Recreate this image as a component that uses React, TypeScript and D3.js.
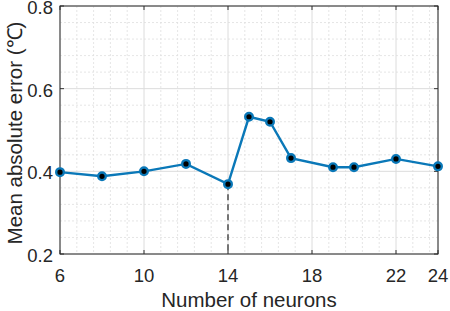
import React from "react";
import * as d3 from "d3";

const neurons = [6, 8, 10, 12, 14, 15, 16, 17, 19, 20, 22, 24];
const mae = [0.398, 0.388, 0.400, 0.418, 0.369, 0.532, 0.520, 0.432, 0.410, 0.410, 0.430, 0.412];
const xTicks = [6, 10, 14, 18, 22, 24];
const yTicks = [0.2, 0.4, 0.6, 0.8];
const bestIndex = 4;

export default function App() {
  const W = 450, H = 311;
  const L = 60, R = 438, T = 6, B = 254;
  const x = d3.scaleLinear().domain([6, 24]).range([L, R]);
  const y = d3.scaleLinear().domain([0.2, 0.8]).range([B, T]);
  const xMinor = d3.range(6, 24.001, 0.8).filter((v) => !xTicks.some((t) => Math.abs(t - v) < 1e-6));
  const yMinor = d3.range(0.2, 0.8001, 0.04).filter((v) => !yTicks.some((t) => Math.abs(t - v) < 1e-6));
  const line = d3.line<number>().x((_, i) => x(neurons[i])).y((d) => y(d));
  const font = "'Liberation Sans', Arial, Helvetica, sans-serif";
  const col = "#0a78b8";
  return (
    <svg width={W} height={H} style={{ position: "absolute", left: 0, top: 0, background: "#fff" }}>
      <rect x={0} y={0} width={W} height={H} fill="#fff" />
      {xMinor.map((v, i) => (
        <line key={"xm" + i} x1={x(v)} x2={x(v)} y1={T} y2={B} stroke="#dedede" strokeWidth={0.8} strokeDasharray="2,2" />
      ))}
      {yMinor.map((v, i) => (
        <line key={"ym" + i} x1={L} x2={R} y1={y(v)} y2={y(v)} stroke="#dedede" strokeWidth={0.8} strokeDasharray="2,2" />
      ))}
      {xTicks.map((v, i) => (
        <line key={"xg" + i} x1={x(v)} x2={x(v)} y1={T} y2={B} stroke="#dcdcdc" strokeWidth={1} />
      ))}
      {yTicks.map((v, i) => (
        <line key={"yg" + i} x1={L} x2={R} y1={y(v)} y2={y(v)} stroke="#dcdcdc" strokeWidth={1} />
      ))}
      {xTicks.map((v, i) => (
        <g key={"xt" + i}>
          <line x1={x(v)} x2={x(v)} y1={B} y2={B - 4} stroke="#333" />
          <line x1={x(v)} x2={x(v)} y1={T} y2={T + 4} stroke="#333" />
          <text x={x(v)} y={282} textAnchor="middle" fontFamily={font} fontSize={18.5} fill="#262626">{v}</text>
        </g>
      ))}
      {yTicks.map((v, i) => (
        <g key={"yt" + i}>
          <line x1={L} x2={L + 4} y1={y(v)} y2={y(v)} stroke="#333" />
          <line x1={R} x2={R - 4} y1={y(v)} y2={y(v)} stroke="#333" />
          <text x={53} y={y(v) + 8} textAnchor="end" fontFamily={font} fontSize={18.5} fill="#262626">{v.toFixed(1)}</text>
        </g>
      ))}
      <rect x={L} y={T} width={R - L} height={B - T} fill="none" stroke="#262626" strokeWidth={1} />
      <line x1={x(neurons[bestIndex])} x2={x(neurons[bestIndex])} y1={y(mae[bestIndex])} y2={B} stroke="#555" strokeWidth={1.6} strokeDasharray="6,4" />
      <path d={line(mae) || ""} fill="none" stroke={col} strokeWidth={2.4} />
      {mae.map((v, i) => (
        <circle key={"p" + i} cx={x(neurons[i])} cy={y(v)} r={3.8} fill="#000" stroke={col} strokeWidth={2.4} />
      ))}
      <text x={(L + R) / 2} y={307} textAnchor="middle" fontFamily={font} fontSize={20.5} fill="#262626">Number of neurons</text>
      <text transform={`translate(22,133) rotate(-90)`} textAnchor="middle" fontFamily={font} fontSize={20.5} fill="#262626">Mean absolute error (℃)</text>
    </svg>
  );
}
